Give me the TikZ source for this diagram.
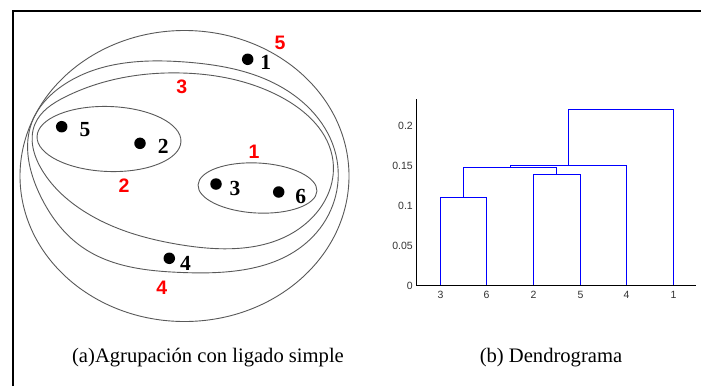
\documentclass[tikz,border=0pt]{standalone}
\usepackage{fontspec}
\setmainfont{Liberation Serif}
\newfontfamily\arialf{Liberation Sans}
\usetikzlibrary{hobby}
\begin{document}
\begin{tikzpicture}[x=1pt,y=-1pt,
  pt/.style={circle,fill=black,inner sep=0pt,minimum size=11.5pt},
  blab/.style={inner sep=0pt,font=\fontsize{21.5}{24}\selectfont\bfseries},
  rlab/.style={inner sep=0pt,text=red,font=\arialf\fontsize{19.5}{22}\selectfont\bfseries},
  clus/.style={draw=black!65,line width=0.9pt},
  dlink/.style={draw=blue,line width=1.4pt},
  ticklab/.style={inner sep=0pt,text=black!80,font=\arialf\fontsize{10.5}{12}\selectfont},
  captxt/.style={inner sep=0pt,font=\fontsize{20.6}{24}\selectfont}]
\useasboundingbox (0,0) rectangle (701,386);
\fill[white] (0,0) rectangle (701,386);
% frame
\draw[line width=2.2pt] (13,386) -- (13,10.7) -- (701,10.7);
% cluster 5 (outer ellipse)
\draw[clus] (184.5,176) ellipse [x radius=164.5, y radius=145.5];
% cluster 4
\draw[clus] plot[closed hobby] coordinates {(32,122) (62,86) (185,62) (283,88) (337,160) (313,236.5) (182,272.5) (82,247) (40,195)};
% cluster 3
\draw[clus] plot[closed hobby] coordinates {(35,124) (65,97) (182,73) (281,97) (333,161) (306.5,223) (182,245) (82,210) (42,170)};
% cluster 2 and 1
\draw[clus] (109,139) ellipse [x radius=72, y radius=32.5, rotate=-2];
\draw[clus] (257.5,188) ellipse [x radius=59.5, y radius=25, rotate=-3];
% points
\node[pt] (p1) at (247.7,59.3) {};
\node[pt] (p5) at (61.7,126.7) {};
\node[pt] (p2) at (140,143.3) {};
\node[pt] (p3) at (216,184) {};
\node[pt] (p6) at (278.7,192) {};
\node[pt] (p4) at (169.3,258.3) {};
\node[blab] (l1) at (265.7,62.3) {1};
\node[blab] (l5) at (85,130) {5};
\node[blab] (l2) at (163.3,146.7) {2};
\node[blab] (l3) at (235,188.3) {3};
\node[blab] (l6) at (300.7,196) {6};
\node[blab] (l4) at (185.5,263.3) {4};
% red cluster numbers
\node[rlab] (r5) at (280,42.7) {5};
\node[rlab] (r3) at (181.7,86.7) {3};
\node[rlab] (r1) at (254,151.7) {1};
\node[rlab] (r2) at (124,185.7) {2};
\node[rlab] (r4) at (161.7,287.3) {4};
% dendrogram axes
\draw[black,line width=1pt] (416.5,99) -- (416.5,285.5) -- (696,285.5);
\node[ticklab,anchor=east] (y0) at (413,285.5) {0};
\node[ticklab,anchor=east] (y1) at (413,245.5) {0.05};
\node[ticklab,anchor=east] (y2) at (413,205.5) {0.1};
\node[ticklab,anchor=east] (y3) at (413,165.5) {0.15};
\node[ticklab,anchor=east] (y4) at (413,125.5) {0.2};
\node[ticklab] (x3) at (440.5,294.5) {3};
\node[ticklab] (x6) at (486.5,294.5) {6};
\node[ticklab] (x2) at (533.5,294.5) {2};
\node[ticklab] (x5) at (580.5,294.5) {5};
\node[ticklab] (x4) at (626.5,294.5) {4};
\node[ticklab] (x1) at (673.5,294.5) {1};
% dendrogram links
\draw[dlink] (440.5,285) -- (440.5,197.5) -- (486.5,197.5) -- (486.5,285);
\draw[dlink] (533.5,285) -- (533.5,174.5) -- (580.5,174.5) -- (580.5,285);
\draw[dlink] (463.5,197.5) -- (463.5,167.5) -- (556.5,167.5) -- (556.5,174.5);
\draw[dlink] (510.5,167.5) -- (510.5,165.5) -- (626.5,165.5) -- (626.5,285);
\draw[dlink] (568.5,165.5) -- (568.5,109.5) -- (673.5,109.5) -- (673.5,285);
% captions
\node[captxt] (capa) at (208,358) {(a)Agrupación con ligado simple};
\node[captxt] (capb) at (551,358) {(b) Dendrograma};
\end{tikzpicture}
\end{document}
